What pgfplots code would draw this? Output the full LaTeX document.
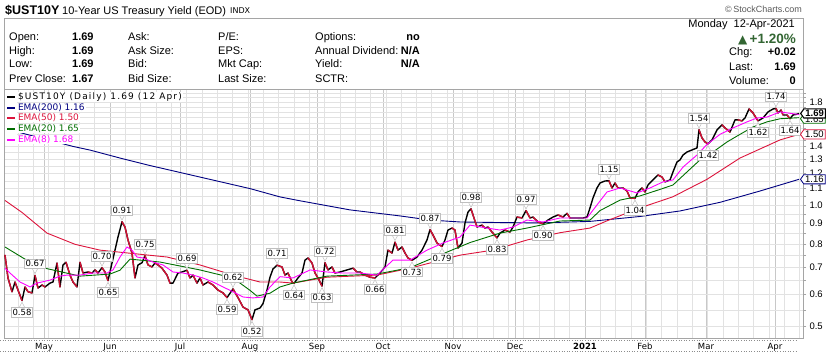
\documentclass[border=0pt]{standalone}
\usepackage{pgfplots}
\pgfplotsset{compat=1.18}
\usepackage{pgfplotstable}
\usepackage{fontspec}
\setmainfont{Liberation Sans}
\newfontfamily\dv{DejaVu Sans}
\newfontfamily\dvs[LetterSpace=13]{DejaVu Sans}
\usetikzlibrary{shapes.symbols,shapes.geometric}
\newcommand{\fsz}[1]{\fontsize{#1}{#1}\selectfont}
\definecolor{navyc}{RGB}{0,0,128}
\definecolor{crim}{RGB}{220,20,60}
\definecolor{dgreen}{RGB}{0,110,0}
\definecolor{mag}{RGB}{255,0,255}
\definecolor{downred}{RGB}{210,16,52}
\definecolor{hdrgreen}{RGB}{51,102,51}
\definecolor{gridc}{RGB}{226,226,226}
\definecolor{gridm}{RGB}{200,200,200}
\definecolor{framec}{RGB}{165,165,165}

\pgfplotstableread{
x v
5 0.752
8 0.660
12 0.610
15 0.645
18 0.616
22 0.580
25 0.627
28 0.610
32 0.606
35 0.670
38 0.623
42 0.634
45 0.627
50 0.641
53 0.645
57 0.719
60 0.627
63 0.711
66 0.722
70 0.671
73 0.645
77 0.627
80 0.722
83 0.679
88 0.683
92 0.679
95 0.691
98 0.679
102 0.700
105 0.683
108 0.650
112 0.719
115 0.774
118 0.834
122 0.910
125 0.883
128 0.820
132 0.761
135 0.660
138 0.711
142 0.720
145 0.750
148 0.711
152 0.703
155 0.719
158 0.711
162 0.698
167 0.671
170 0.641
173 0.641
178 0.679
182 0.683
187 0.690
190 0.660
193 0.671
197 0.641
200 0.660
203 0.634
208 0.645
213 0.634
218 0.616
223 0.606
227 0.590
233 0.620
238 0.590
243 0.559
248 0.550
252 0.520
255 0.550
260 0.556
263 0.570
267 0.616
270 0.663
273 0.695
277 0.710
282 0.703
285 0.671
288 0.679
292 0.645
294 0.640
298 0.660
302 0.679
305 0.731
308 0.740
312 0.719
315 0.679
318 0.660
322 0.630
325 0.720
328 0.691
332 0.703
335 0.679
340 0.683
347 0.691
353 0.698
357 0.683
360 0.683
365 0.671
370 0.663
375 0.660
380 0.679
385 0.703
388 0.774
392 0.761
395 0.810
398 0.774
402 0.788
405 0.761
408 0.740
412 0.730
417 0.744
422 0.774
427 0.820
430 0.870
433 0.844
437 0.806
442 0.790
445 0.820
448 0.868
452 0.878
455 0.868
458 0.783
462 0.806
465 0.904
468 0.962
471 0.980
473 0.946
477 0.883
482 0.893
485 0.878
488 0.883
492 0.858
497 0.830
500 0.853
505 0.868
510 0.858
513 0.883
517 0.935
522 0.930
526 0.970
530 0.930
533 0.935
538 0.909
543 0.900
548 0.919
553 0.935
558 0.946
563 0.935
567 0.955
570 0.930
577 0.930
583 0.930
587 0.935
590 0.985
593 1.043
597 1.104
600 1.136
605 1.149
609 1.150
612 1.104
615 1.136
618 1.104
623 1.104
627 1.085
630 1.043
635 1.040
638 1.079
642 1.104
645 1.079
648 1.123
653 1.156
658 1.189
662 1.175
665 1.143
670 1.156
673 1.210
677 1.281
680 1.296
683 1.333
687 1.356
692 1.372
697 1.388
699 1.540
702 1.469
705 1.436
708 1.420
712 1.453
717 1.538
722 1.583
725 1.556
730 1.520
735 1.629
738 1.629
742 1.620
745 1.647
749 1.734
753 1.695
758 1.620
763 1.647
768 1.705
773 1.734
776 1.740
778 1.695
781 1.724
783 1.676
787 1.676
790 1.640
793 1.676
797 1.683
799 1.690
}\price

% down-day runs of the price line (drawn red)
\pgfplotstableread{
x v
5 0.752
8 0.660
12 0.610
nan nan
15 0.645
18 0.616
22 0.580
nan nan
25 0.627
28 0.610
32 0.606
nan nan
35 0.670
38 0.623
nan nan
42 0.634
45 0.627
nan nan
57 0.719
60 0.627
nan nan
66 0.722
70 0.671
73 0.645
77 0.627
nan nan
80 0.722
83 0.679
nan nan
88 0.683
92 0.679
nan nan
95 0.691
98 0.679
nan nan
102 0.700
105 0.683
108 0.650
nan nan
122 0.910
125 0.883
128 0.820
132 0.761
135 0.660
nan nan
145 0.750
148 0.711
152 0.703
nan nan
155 0.719
158 0.711
162 0.698
167 0.671
170 0.641
nan nan
187 0.690
190 0.660
nan nan
193 0.671
197 0.641
nan nan
200 0.660
203 0.634
nan nan
208 0.645
213 0.634
218 0.616
223 0.606
227 0.590
nan nan
233 0.620
238 0.590
243 0.559
248 0.550
252 0.520
nan nan
277 0.710
282 0.703
285 0.671
nan nan
288 0.679
292 0.645
294 0.640
nan nan
308 0.740
312 0.719
315 0.679
318 0.660
322 0.630
nan nan
325 0.720
328 0.691
nan nan
332 0.703
335 0.679
nan nan
353 0.698
357 0.683
nan nan
360 0.683
365 0.671
370 0.663
375 0.660
nan nan
388 0.774
392 0.761
nan nan
395 0.810
398 0.774
nan nan
402 0.788
405 0.761
408 0.740
412 0.730
nan nan
430 0.870
433 0.844
437 0.806
442 0.790
nan nan
452 0.878
455 0.868
458 0.783
nan nan
471 0.980
473 0.946
477 0.883
nan nan
482 0.893
485 0.878
nan nan
488 0.883
492 0.858
497 0.830
nan nan
505 0.868
510 0.858
nan nan
517 0.935
522 0.930
nan nan
526 0.970
530 0.930
nan nan
533 0.935
538 0.909
543 0.900
nan nan
558 0.946
563 0.935
nan nan
567 0.955
570 0.930
nan nan
609 1.150
612 1.104
nan nan
615 1.136
618 1.104
nan nan
623 1.104
627 1.085
630 1.043
635 1.040
nan nan
642 1.104
645 1.079
nan nan
658 1.189
662 1.175
665 1.143
nan nan
699 1.540
702 1.469
705 1.436
708 1.420
nan nan
722 1.583
725 1.556
730 1.520
nan nan
738 1.629
742 1.620
nan nan
749 1.734
753 1.695
758 1.620
nan nan
776 1.740
778 1.695
nan nan
781 1.724
783 1.676
nan nan
787 1.676
790 1.640
}\down

\pgfplotstableread{
x v
5 1.55
40 1.47
73 1.40
90 1.371
120 1.31
150 1.255
200 1.175
250 1.10
280 1.049
300 1.026
350 0.974
400 0.941
430 0.919
460 0.909
500 0.906
540 0.904
590 0.912
640 0.938
680 0.968
720 1.017
760 1.085
799 1.160
}\emaA

\pgfplotstableread{
x v
5 1.028
22 0.960
47 0.853
75 0.800
100 0.774
133 0.759
167 0.744
200 0.711
233 0.671
260 0.645
280 0.645
293 0.641
327 0.663
377 0.671
410 0.698
460 0.752
493 0.774
527 0.820
560 0.855
590 0.878
607 0.915
640 0.985
673 1.050
707 1.160
740 1.310
780 1.453
799 1.500
}\emaB

\pgfplotstableread{
x v
5 0.788
25 0.735
45 0.698
80 0.667
110 0.675
120 0.690
130 0.735
160 0.723
200 0.691
233 0.660
250 0.615
257 0.595
270 0.605
280 0.627
293 0.641
327 0.667
377 0.675
410 0.700
443 0.758
470 0.808
500 0.853
527 0.878
560 0.914
590 0.919
600 0.970
620 1.030
640 1.055
660 1.095
673 1.123
687 1.210
700 1.296
713 1.356
727 1.436
740 1.500
753 1.565
767 1.611
780 1.640
799 1.650
}\emaC

\pgfplotstableread{
x v
5 0.698
10 0.679
20 0.645
30 0.627
37 0.641
50 0.652
60 0.667
67 0.671
80 0.671
93 0.679
107 0.679
113 0.691
120 0.744
127 0.788
132 0.774
137 0.744
143 0.740
153 0.723
163 0.711
173 0.683
183 0.679
193 0.671
203 0.660
213 0.645
223 0.627
233 0.610
243 0.592
253 0.589
263 0.592
270 0.627
280 0.665
293 0.660
310 0.691
327 0.683
343 0.679
360 0.679
377 0.671
393 0.731
410 0.731
427 0.774
443 0.806
460 0.834
470 0.893
487 0.878
500 0.868
513 0.883
527 0.919
543 0.909
560 0.930
587 0.930
597 1.002
607 1.079
620 1.104
637 1.073
650 1.104
663 1.143
673 1.156
683 1.244
697 1.333
707 1.416
720 1.500
733 1.556
747 1.611
757 1.647
767 1.656
780 1.705
799 1.680
}\emaD

\tikzset{
  ann/.style={draw=black!25, fill=white, line width=0.6pt, inner xsep=1.3pt, inner ysep=1.6pt, font=\dv\fsz{8.5}, text=black},
  ptri/.style={isosceles triangle, isosceles triangle stretches, minimum width=6.4pt, minimum height=6pt, inner sep=0pt, draw=black!25, fill=white, line width=0.5pt},
  tag/.style={signal, signal to=west, signal pointer angle=110, fill=white, inner xsep=1.5pt, inner ysep=1.2pt, font=\fsz{9.5}, line width=0.8pt, anchor=west},
  hd/.style={anchor=base west, inner sep=0pt, font=\fsz{11}},
  hdb/.style={anchor=base east, inner sep=0pt, font=\fsz{11}\bfseries},
  hdv/.style={anchor=base west, inner sep=0pt, font=\fsz{11}\bfseries},
  leg/.style={anchor=west, fill=white, inner xsep=0.8pt, inner ysep=0.4pt, font=\dv\fsz{9}},
}
\newcommand{\pk}[3]{%
  \node[ptri, shape border rotate=270, anchor=apex, yshift=1pt] at (axis cs:#1,#2) {};
  \node[ann,anchor=south,yshift=6.5pt] at (axis cs:#1,#2) {#3};}
\newcommand{\tr}[3]{%
  \node[ptri, shape border rotate=90, anchor=apex, yshift=-1pt] at (axis cs:#1,#2) {};
  \node[ann,anchor=north,yshift=-6.5pt] at (axis cs:#1,#2) {#3};}

\begin{document}
\begin{tikzpicture}[x=1pt,y=1pt]
\useasboundingbox (0,0) rectangle (832,353);
\draw[framec, line width=0.6pt] (4,264) -- (4,335) -- (803,335) -- (803,264);
\begin{axis}[
  at={(4pt,15pt)}, anchor=south west,
  scale only axis, width=799pt, height=249pt,
  xmin=4, xmax=803, ymode=log, ymin=0.4683, ymax=1.944,
  axis line style={draw=framec, line width=0.6pt},
  xtick={44,110,180,250,317,383,453,515,585,645,706,775},
  xticklabels={May,Jun,Jul,Aug,Sep,Oct,Nov,Dec,\textbf{2021},Feb,Mar,Apr},
  minor xtick={2.8,18.12,...,800},
  xmajorgrids=true, xminorgrids=true, ymajorgrids=false, yminorgrids=true,
  major grid style={draw=gridm, line width=0.6pt},
  minor grid style={draw=gridc, line width=0.6pt},
  ytick={0.5,0.6,0.7,0.8,0.9,1.0,1.1,1.2,1.3,1.4,1.5,1.6,1.7,1.8},
  yticklabels={0.5,0.6,0.7,0.8,0.9,1.0,1.1,1.2,1.3,1.4,,,,1.8},
  minor ytick={0.5,0.55,0.6,0.65,0.7,0.75,0.8,0.85,0.9,0.95,1.0,1.05,1.1,1.15,1.2,1.25,1.3,1.35,1.4,1.45,1.5,1.55,1.6,1.65,1.7,1.75,1.8,1.85,1.9},
  ytick pos=right, yticklabel pos=right,
  tick align=outside,
  xtick style={draw=none},
  ytick style={draw=framec, line width=0.6pt},
  major tick length=3pt, minor tick length=3pt,
  yticklabel style={font=\fsz{9.5}, text=black},
  xticklabel style={font=\dv\fsz{8.5}, text=black, yshift=1pt},
  clip mode=individual,
  unbounded coords=jump,
]
\addplot[navyc, line width=0.9pt] table[x=x,y=v] {\emaA};
\addplot[black, line width=1.4pt, line join=round] table[x=x,y=v] {\price};
\addplot[downred, line width=1.4pt, line join=round, line cap=round] table[x=x,y=v] {\down};
\addplot[crim, line width=0.9pt] table[x=x,y=v] {\emaB};
\addplot[dgreen, line width=0.9pt] table[x=x,y=v] {\emaC};
\addplot[mag, line width=0.9pt] table[x=x,y=v] {\emaD};

\pk{35}{0.67}{0.67}
\pk{102}{0.70}{0.70}
\pk{122}{0.91}{0.91}
\pk{145}{0.75}{0.75}
\pk{187}{0.69}{0.69}
\pk{233}{0.62}{0.62}
\pk{277}{0.71}{0.71}
\pk{325}{0.72}{0.72}
\pk{395}{0.81}{0.81}
\pk{430}{0.87}{0.87}
\pk{471}{0.98}{0.98}
\pk{526}{0.97}{0.97}
\pk{609}{1.15}{1.15}
\pk{699}{1.54}{1.54}
\pk{776}{1.74}{1.74}
\tr{22}{0.58}{0.58}
\tr{108}{0.65}{0.65}
\tr{227}{0.59}{0.59}
\tr{252}{0.52}{0.52}
\tr{294}{0.64}{0.64}
\tr{322}{0.63}{0.63}
\tr{375}{0.66}{0.66}
\tr{412}{0.73}{0.73}
\tr{442}{0.79}{0.79}
\tr{497}{0.83}{0.83}
\tr{543}{0.90}{0.90}
\tr{635}{1.04}{1.04}
\tr{708}{1.42}{1.42}
\tr{758}{1.62}{1.62}
\tr{790}{1.64}{1.64}

\node[tag, draw=dgreen] at (axis cs:800,1.64) {1.65};
\node[tag, draw=crim] at (axis cs:800,1.50) {1.50};
\node[tag, draw=navyc] at (axis cs:800,1.16) {1.16};
\node[tag, draw=black, line width=1.1pt, font=\fsz{9.5}\bfseries] at (axis cs:800,1.69) {1.69};
\end{axis}

% header
\node[anchor=base west, inner sep=0pt, font=\fsz{12.5}\bfseries] at (5,338) {\$UST10Y};
\node[hd] at (62,338.5) {10-Year US Treasury Yield (EOD)};
\node[anchor=base west, inner sep=0pt, font=\dv\fsz{8}] at (230,339) {INDX};
\node[hd] at (9,312) {Open:};
\node[hd] at (9,298) {High:};
\node[hd] at (9,285) {Low:};
\node[hd] at (9,270) {Prev Close:};
\node[hdv] at (72,312) {1.69};
\node[hdv] at (72,298) {1.69};
\node[hdv] at (72,285) {1.69};
\node[hdv] at (72,270) {1.67};
\node[hd] at (128,312) {Ask:};
\node[hd] at (128,298) {Ask Size:};
\node[hd] at (128,285) {Bid:};
\node[hd] at (128,270) {Bid Size:};
\node[hd] at (218,312) {P/E:};
\node[hd] at (218,298) {EPS:};
\node[hd] at (218,285) {Mkt Cap:};
\node[hd] at (218,270) {Last Size:};
\node[hd] at (315,312) {Options:};
\node[hd] at (315,298) {Annual Dividend:};
\node[hd] at (315,285) {Yield:};
\node[hd] at (315,270) {SCTR:};
\node[hdb] at (420,312) {no};
\node[hdb] at (420,298) {N/A};
\node[hdb] at (420,285) {N/A};
\node[anchor=base east, inner sep=0pt, font=\fsz{9}, text=black!65] at (802,340.5) {\textcopyright\,StockCharts.com};
\node[anchor=base east, inner sep=0pt, font=\fsz{11}] at (795,325) {Monday\ \ 12-Apr-2021};
\node[anchor=base east, inner sep=0pt, font=\fsz{13.5}\bfseries, text=hdrgreen] at (796,309) {{\dv\fsz{12}▲}\,+1.20\%};
\node[hd] at (729,297) {Chg:};
\node[hdb] at (796,297) {+0.02};
\node[hd] at (729,282) {Last:};
\node[hdb] at (796,282) {1.69};
\node[hd] at (729,268) {Volume:};
\node[hdb] at (796,268) {0};

% legend
\fill[white] (5,208) rectangle (17,261);
\draw[black, line width=2pt] (7,256) -- (15,256);
\node[leg, text=black, font=\dvs\fsz{9}] at (17,256) {\$UST10Y (Daily) 1.69 (12 Apr)};
\draw[navyc, line width=2pt] (7,245) -- (15,245);
\node[leg, text=navyc] at (17,245) {EMA(200) 1.16};
\draw[crim, line width=2pt] (7,235) -- (15,235);
\node[leg, text=crim] at (17,235) {EMA(50) 1.50};
\draw[dgreen, line width=2pt] (7,224) -- (15,224);
\node[leg, text=dgreen] at (17,224) {EMA(20) 1.65};
\draw[mag, line width=2pt] (7,213) -- (15,213);
\node[leg, text=mag] at (17,213) {EMA(8) 1.68};

% bottom separators
\draw[black!45, line width=0.6pt, dotted] (0,12.3) -- (797,12.3);
\draw[black!45, line width=0.6pt, dotted] (0,1.2) -- (797,1.2);
\end{tikzpicture}
\end{document}
